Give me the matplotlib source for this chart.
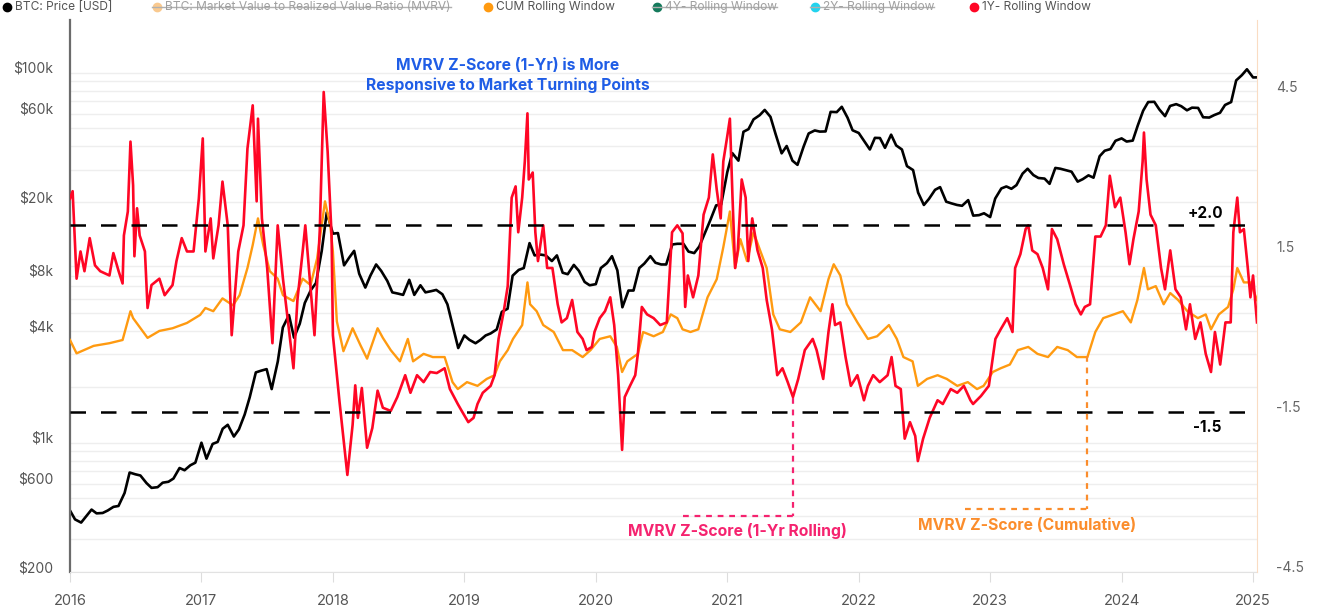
import matplotlib
matplotlib.use("Agg")
import matplotlib.pyplot as plt
import matplotlib.transforms as mtransforms
from matplotlib.lines import Line2D
from matplotlib.ticker import FixedLocator, LogLocator, NullFormatter
import numpy as np
import pandas as pd

plt.rcParams['font.family'] = ['Inter', 'DejaVu Sans']

# BTC price, 1st and 15th of each month (USD)
btc_price = [
    430, 385, 370, 400, 435, 415, 417, 430, 450, 455, 535, 690, 675, 665, 605, 570, 575, 608, 615, 640, 730, 710, 755, 780,
    1000, 820, 985, 1010, 1190, 1250, 1080, 1180, 1420, 1760, 2400, 2450, 2500, 1950, 2750, 4200, 4900, 3700, 4400, 5700, 6700, 7300, 10900, 17600,
    13500, 13600, 9100, 10000, 10900, 8200, 6900, 8000, 9200, 8500, 7500, 6500, 6400, 6300, 7600, 6300, 7100, 6500, 6600, 6700, 6350, 5600, 4200, 3250,
    3800, 3600, 3450, 3600, 3800, 3900, 4100, 5100, 5300, 8000, 8600, 8800, 12000, 10300, 10400, 10300, 9600, 10300, 8300, 8150, 9150, 8500, 7400, 7100,
    7200, 8800, 9350, 10200, 8550, 5400, 6650, 6650, 8800, 9300, 10200, 9400, 9200, 9200, 11800, 11900, 11900, 10800, 10600, 11500, 13800, 16000, 19200, 19400,
    29000, 36800, 33500, 48000, 49600, 56000, 59000, 63000, 57800, 46800, 36700, 40200, 33500, 31800, 39900, 47000, 48800, 48100, 48200, 61500, 61300, 65500, 57200, 48900,
    47300, 43100, 38500, 44500, 44400, 39300, 46300, 40500, 38500, 31300, 29800, 22500, 19300, 20800, 23300, 24100, 20100, 19700, 19300, 19100, 20500, 16900, 17000, 17400,
    16600, 20900, 23700, 24300, 23600, 24700, 28500, 30300, 28000, 27000, 26800, 25100, 30600, 30300, 29700, 29200, 25800, 26600, 27900, 27100, 35400, 37900, 38700, 42900,
    44200, 42500, 43000, 51900, 62400, 69500, 69700, 63400, 58300, 66200, 67700, 66000, 62700, 64800, 64600, 57500, 57300, 59100, 60800, 67000, 69500, 91000, 97200, 104500,
    94400, 94500,
]

# MVRV Z-Score, cumulative window (time in decimal years)
cum_t = [2016.00, 2016.05, 2016.18, 2016.30, 2016.40, 2016.46, 2016.48, 2016.59, 2016.68, 2016.78, 2016.89, 2016.99,
         2017.03, 2017.09, 2017.16, 2017.24, 2017.29, 2017.35, 2017.39, 2017.43, 2017.47, 2017.52, 2017.58, 2017.62,
         2017.70, 2017.77, 2017.83, 2017.88, 2017.94, 2017.98, 2018.00, 2018.03, 2018.08, 2018.15, 2018.21, 2018.26,
         2018.34, 2018.38, 2018.44, 2018.51, 2018.57, 2018.61, 2018.69, 2018.76, 2018.85, 2018.91, 2018.95, 2019.02,
         2019.10, 2019.17, 2019.23, 2019.27, 2019.33, 2019.37, 2019.44, 2019.48, 2019.50, 2019.55, 2019.60, 2019.68,
         2019.75, 2019.82, 2019.90, 2019.96, 2020.03, 2020.11, 2020.16, 2020.20, 2020.24, 2020.32, 2020.36, 2020.44,
         2020.51, 2020.57, 2020.62, 2020.66, 2020.72, 2020.78, 2020.85, 2020.92, 2020.97, 2021.02, 2021.06, 2021.10,
         2021.15, 2021.20, 2021.25, 2021.30, 2021.35, 2021.40, 2021.48, 2021.56, 2021.63, 2021.71, 2021.77, 2021.81,
         2021.86, 2021.91, 2021.99, 2022.07, 2022.14, 2022.23, 2022.29, 2022.34, 2022.41, 2022.45, 2022.52, 2022.60,
         2022.67, 2022.75, 2022.83, 2022.90, 2022.95, 2023.02, 2023.08, 2023.15, 2023.21, 2023.29, 2023.36, 2023.44,
         2023.51, 2023.59, 2023.66, 2023.74, 2023.80, 2023.86, 2023.94, 2024.01, 2024.07, 2024.12, 2024.17, 2024.20,
         2024.26, 2024.32, 2024.37, 2024.43, 2024.50, 2024.58, 2024.64, 2024.68, 2024.74, 2024.81, 2024.85, 2024.88,
         2024.93, 2024.98, 2025.03]
cum_z = [-0.15, -0.40, -0.26, -0.21, -0.15, 0.39, 0.26, -0.11, 0.02, 0.07, 0.17, 0.32,
         0.45, 0.39, 0.63, 0.50, 0.69, 1.20, 1.63, 2.13, 1.63, 1.14, 1.00, 0.69,
         0.58, 1.00, 0.88, 1.38, 2.45, 2.00, 1.51, 0.20, -0.36, 0.07, -0.25, -0.50,
         0.07, -0.11, -0.34, -0.55, -0.13, -0.55, -0.41, -0.47, -0.47, -0.94, -1.07, -0.94,
         -1.01, -0.88, -0.81, -0.55, -0.34, -0.13, 0.13, 0.93, 0.52, 0.39, 0.13, 0.00,
         -0.34, -0.34, -0.47, -0.34, -0.13, -0.08, -0.28, -0.75, -0.55, -0.41, 0.00, -0.08,
         0.00, 0.33, 0.26, 0.05, 0.00, 0.05, 0.65, 0.99, 1.59, 2.26, 1.20, 1.74,
         1.33, 1.87, 1.53, 1.20, 0.33, 0.05, 0.00, 0.18, 0.65, 0.39, 0.99, 1.27,
         1.06, 0.52, 0.18, -0.13, -0.08, 0.13, -0.13, -0.47, -0.55, -1.01, -0.88, -0.81,
         -0.88, -1.01, -0.94, -1.07, -1.01, -0.75, -0.68, -0.61, -0.34, -0.28, -0.41, -0.47,
         -0.28, -0.34, -0.47, -0.47, 0.00, 0.26, 0.33, 0.39, 0.18, 0.60, 1.20, 0.80,
         0.86, 0.52, 0.73, 0.60, 0.39, 0.26, 0.33, 0.05, 0.33, 0.47, 0.80, 1.20,
         0.93, 0.93, 0.60]

# MVRV Z-Score, 1-year rolling window
y1_t = [2016.00, 2016.02, 2016.05, 2016.08, 2016.11, 2016.15, 2016.19, 2016.23, 2016.30, 2016.33, 2016.37, 2016.40,
        2016.41, 2016.44, 2016.46, 2016.48, 2016.49, 2016.51, 2016.53, 2016.57, 2016.59, 2016.62, 2016.68, 2016.72,
        2016.78, 2016.81, 2016.85, 2016.89, 2016.94, 2016.98, 2017.01, 2017.03, 2017.07, 2017.09, 2017.13, 2017.16,
        2017.20, 2017.23, 2017.28, 2017.32, 2017.35, 2017.39, 2017.42, 2017.43, 2017.46, 2017.50, 2017.54, 2017.58,
        2017.62, 2017.70, 2017.73, 2017.77, 2017.79, 2017.86, 2017.90, 2017.93, 2017.96, 2017.99, 2018.00, 2018.05,
        2018.11, 2018.15, 2018.17, 2018.19, 2018.22, 2018.26, 2018.30, 2018.34, 2018.38, 2018.44, 2018.49, 2018.55,
        2018.59, 2018.64, 2018.69, 2018.74, 2018.79, 2018.85, 2018.89, 2018.95, 2018.98, 2019.03, 2019.07, 2019.10,
        2019.14, 2019.20, 2019.23, 2019.26, 2019.30, 2019.33, 2019.36, 2019.39, 2019.41, 2019.44, 2019.46, 2019.48,
        2019.49, 2019.52, 2019.54, 2019.56, 2019.60, 2019.63, 2019.67, 2019.71, 2019.74, 2019.78, 2019.82, 2019.86,
        2019.90, 2019.93, 2019.97, 2019.99, 2020.03, 2020.07, 2020.11, 2020.14, 2020.17, 2020.20, 2020.22, 2020.26,
        2020.30, 2020.32, 2020.35, 2020.39, 2020.44, 2020.49, 2020.54, 2020.58, 2020.62, 2020.66, 2020.68, 2020.70,
        2020.74, 2020.78, 2020.82, 2020.86, 2020.89, 2020.92, 2020.95, 2020.97, 2021.00, 2021.02, 2021.04, 2021.06,
        2021.08, 2021.11, 2021.14, 2021.16, 2021.19, 2021.23, 2021.27, 2021.30, 2021.34, 2021.38, 2021.42, 2021.46,
        2021.50, 2021.54, 2021.59, 2021.65, 2021.68, 2021.73, 2021.77, 2021.80, 2021.82, 2021.86, 2021.90, 2021.94,
        2021.99, 2022.04, 2022.07, 2022.11, 2022.16, 2022.22, 2022.25, 2022.28, 2022.32, 2022.35, 2022.39, 2022.43,
        2022.45, 2022.49, 2022.54, 2022.60, 2022.64, 2022.70, 2022.75, 2022.80, 2022.85, 2022.87, 2022.93, 2022.99,
        2023.04, 2023.08, 2023.13, 2023.17, 2023.19, 2023.23, 2023.27, 2023.29, 2023.32, 2023.36, 2023.40, 2023.44,
        2023.47, 2023.51, 2023.56, 2023.61, 2023.65, 2023.69, 2023.72, 2023.76, 2023.80, 2023.84, 2023.88, 2023.91,
        2023.95, 2023.99, 2024.03, 2024.06, 2024.09, 2024.13, 2024.16, 2024.17, 2024.19, 2024.22, 2024.26, 2024.30,
        2024.33, 2024.37, 2024.41, 2024.45, 2024.49, 2024.52, 2024.56, 2024.60, 2024.64, 2024.68, 2024.71, 2024.75,
        2024.79, 2024.83, 2024.85, 2024.88, 2024.90, 2024.93, 2024.96, 2024.98, 2025.00, 2025.03]
y1_z = [2.50, 2.64, 1.00, 1.51, 1.14, 1.76, 1.25, 1.14, 1.06, 1.48, 1.14, 0.91,
        1.81, 2.26, 3.57, 2.75, 1.42, 2.32, 1.81, 1.51, 0.45, 0.88, 1.00, 0.69,
        0.88, 1.33, 1.76, 1.51, 1.51, 2.50, 3.63, 1.51, 2.13, 1.38, 2.00, 2.82,
        2.00, -0.06, 1.51, 2.00, 3.44, 4.25, 2.45, 4.00, 2.13, 1.20, -0.21, 2.00,
        1.00, -0.68, 0.60, 1.51, 2.00, -0.06, 1.90, 4.50, 3.38, 1.81, -0.06, -1.30,
        -2.68, -1.74, -1.00, -1.61, -1.05, -2.17, -1.80, -1.10, -1.42, -1.48, -1.22, -0.81,
        -1.14, -0.81, -0.94, -0.75, -0.77, -0.68, -1.07, -1.35, -1.48, -1.69, -1.61, -1.35,
        -1.14, -1.01, -0.81, -0.13, 0.39, 0.86, 2.52, 2.73, 1.87, 2.52, 3.20, 4.10,
        2.86, 2.99, 1.87, 1.33, 2.00, 1.20, 1.20, 0.52, 0.18, 0.26, 0.60, 0.00,
        -0.13, -0.34, -0.28, 0.00, 0.26, 0.39, 0.65, 0.13, -0.81, -2.21, -1.22, -1.01,
        -0.81, -0.41, 0.47, 0.33, 0.26, 0.13, 0.18, 1.87, 2.00, 1.85, 0.47, 1.06,
        0.65, 1.06, 2.20, 2.52, 3.33, 2.67, 2.13, 3.20, 3.67, 4.00, 2.52, 1.20,
        1.53, 2.86, 2.52, 1.33, 2.13, 1.53, 1.20, 0.60, 0.05, -0.81, -0.68, -0.94,
        -1.22, -0.88, -0.34, -0.13, -0.34, -0.88, 0.00, 0.52, 0.13, 0.18, -0.47, -1.01,
        -0.81, -1.28, -1.01, -0.81, -0.94, -0.81, -0.47, -1.01, -1.07, -2.00, -1.69, -1.95,
        -2.42, -2.00, -1.61, -1.28, -1.35, -1.07, -1.14, -1.01, -1.28, -1.35, -1.20, -1.01,
        -0.13, 0.05, 0.26, 0.00, 1.20, 1.46, 1.93, 2.00, 1.53, 1.46, 1.20, 0.80,
        1.93, 1.74, 1.27, 0.86, 0.52, 0.33, 0.47, 0.52, 1.79, 1.79, 2.00, 2.93,
        2.34, 2.52, 1.87, 1.27, 1.74, 2.26, 3.20, 3.74, 2.86, 2.20, 2.00, 1.20,
        0.80, 1.53, 0.80, 0.65, 0.05, 0.52, -0.13, 0.18, -0.41, -0.75, 0.00, -0.61,
        0.18, 0.18, 1.87, 2.52, 1.87, 1.93, 1.20, 0.65, 1.06, 0.18]

price_ticks = [200, 600, 1000, 4000, 8000, 20000, 60000, 100000]
price_labels = ['$200', '$600', '$1k', '$4k', '$8k', '$20k', '$60k', '$100k']
z_ticks = [-4.5, -1.5, 1.5, 4.5]
year_ticks = list(range(2016, 2026))

# thresholds
z_high, z_low = 2.0, -1.5


def decimal_year(dates):
    dates = pd.DatetimeIndex(dates)
    days = np.where(dates.is_leap_year, 366, 365)
    return np.asarray(dates.year + (dates.dayofyear - 1) / days)


btc_dates = list(pd.date_range('2016-01-01', '2025-01-01', freq='SMS')) + [pd.Timestamp('2025-01-12')]
btc_t = decimal_year(btc_dates)

W, H = 1317, 614
fig = plt.figure(figsize=(W / 100, H / 100), dpi=100)
ax = fig.add_axes([70 / W, 1 - 572 / H, (1257 - 70) / W, (572 - 20) / H])
ax2 = ax.twinx()

red = '#ff0625'
orange = '#ff9a10'
pink = '#f5236f'
ann_orange = '#fb8d2c'
blue = '#1f5de6'

ax.plot(btc_t, btc_price, color='black', lw=1.9)
ax2.plot(cum_t, cum_z, color=orange, lw=1.7)
ax2.plot(y1_t, y1_z, color=red, lw=1.9)

for lvl in (z_high, z_low):
    ax2.axhline(lvl, color='black', lw=1.8, dashes=(6.2, 6.0))

ax.set_yscale('log')
ax.set_ylim(200, 193000)
ax.set_xlim(2016, 2025.03)
ax2.set_ylim(-4.5, 5.85)

ax.yaxis.set_major_locator(FixedLocator(price_ticks))
ax.set_yticklabels(price_labels)
ax.yaxis.set_minor_locator(LogLocator(base=10, subs=np.arange(2, 10)))
ax.yaxis.set_minor_formatter(NullFormatter())
ax.grid(which='both', axis='y', color='#eeeeee', lw=1)
ax.set_axisbelow(True)

ax2.set_yticks(z_ticks)
ax2.set_yticklabels([str(v) for v in z_ticks])

ax.set_xticks(year_ticks)
ax.set_xticklabels([str(y) for y in year_ticks])

ax.tick_params(axis='y', which='both', length=0, labelsize=10, labelcolor='#555555', pad=12)
ax2.tick_params(axis='y', length=0, labelsize=10, labelcolor='#666666', pad=14)
ax.tick_params(axis='x', length=7, color='#dddddd', labelsize=10.5, labelcolor='#555555', pad=9)

# labels sit a little above their gridline in the original
shift = mtransforms.ScaledTranslation(0, 0.055, fig.dpi_scale_trans)
for lab in ax.get_yticklabels() + ax2.get_yticklabels():
    lab.set_transform(lab.get_transform() + shift)

for a in (ax, ax2):
    a.spines['top'].set_visible(False)
ax.spines['right'].set_visible(False)
ax2.spines['left'].set_visible(False)
ax2.spines['bottom'].set_visible(False)
ax.spines['left'].set_color('#6b6b6b')
ax.spines['left'].set_linewidth(1.6)
ax.spines['bottom'].set_color('#e2e2e2')
ax2.spines['right'].set_color('#fadcc3')

# annotations
ax2.text(2019.33, 4.81, 'MVRV Z-Score (1-Yr) is More\nResponsive to Market Turning Points',
         color=blue, fontsize=11.3, fontweight='bold', ha='center', va='center', linespacing=1.3)
ax2.text(2024.64, 2.22, '+2.0', color='black', fontsize=11, fontweight='bold', ha='center', va='center')
ax2.text(2024.65, -1.80, '-1.5', color='black', fontsize=11, fontweight='bold', ha='center', va='center')

ax2.plot([2021.50, 2021.50], [-1.24, -3.45], color=pink, lw=1.6, dashes=(2.6, 2.6))
ax2.plot([2020.66, 2021.50], [-3.45, -3.45], color=pink, lw=1.6, dashes=(2.6, 2.6))
ax2.text(2021.08, -3.73, 'MVRV Z-Score (1-Yr Rolling)', color=pink, fontsize=11.3,
         fontweight='bold', ha='center', va='center')

ax2.plot([2023.74, 2023.74], [-0.45, -3.32], color=ann_orange, lw=1.6, dashes=(2.6, 2.6))
ax2.plot([2022.81, 2023.74], [-3.32, -3.32], color=ann_orange, lw=1.6, dashes=(2.6, 2.6))
ax2.text(2023.28, -3.63, 'MVRV Z-Score (Cumulative)', color=ann_orange, fontsize=11.3,
         fontweight='bold', ha='center', va='center')

# legend row across the top
leg_y = 1 - 7 / H
legend_items = [
    # marker x, text x, colour, label, hidden
    (7, 15, 'black', 'BTC: Price [USD]', False),
    (157, 165, '#f9c98f', 'BTC: Market Value to Realized Value Ratio (MVRV)', True),
    (488, 496, orange, 'CUM Rolling Window', False),
    (657, 665, '#157a5c', '4Y- Rolling Window', True),
    (815, 823, '#22d3ee', '2Y- Rolling Window', True),
    (974, 982, red, '1Y- Rolling Window', False),
]
legend_texts = []
for mx, tx, col, label, hidden in legend_items:
    fig.add_artist(Line2D([mx / W], [leg_y], marker='o', ms=6, color=col, mec=col,
                          transform=fig.transFigure))
    t = fig.text(tx / W, leg_y, label, fontsize=8.6, va='center', ha='left',
                 color='#a0a0a0' if hidden else '#555555')
    legend_texts.append((t, mx, hidden, col))

fig.canvas.draw()
renderer = fig.canvas.get_renderer()
for t, mx, hidden, col in legend_texts:
    if not hidden:
        continue
    bb = t.get_window_extent(renderer)
    fig.add_artist(Line2D([(mx - 5) / W, bb.x1 / W], [leg_y, leg_y], color='#b0b0b0', lw=1,
                          transform=fig.transFigure))

fig.savefig('out.png', dpi=100)
